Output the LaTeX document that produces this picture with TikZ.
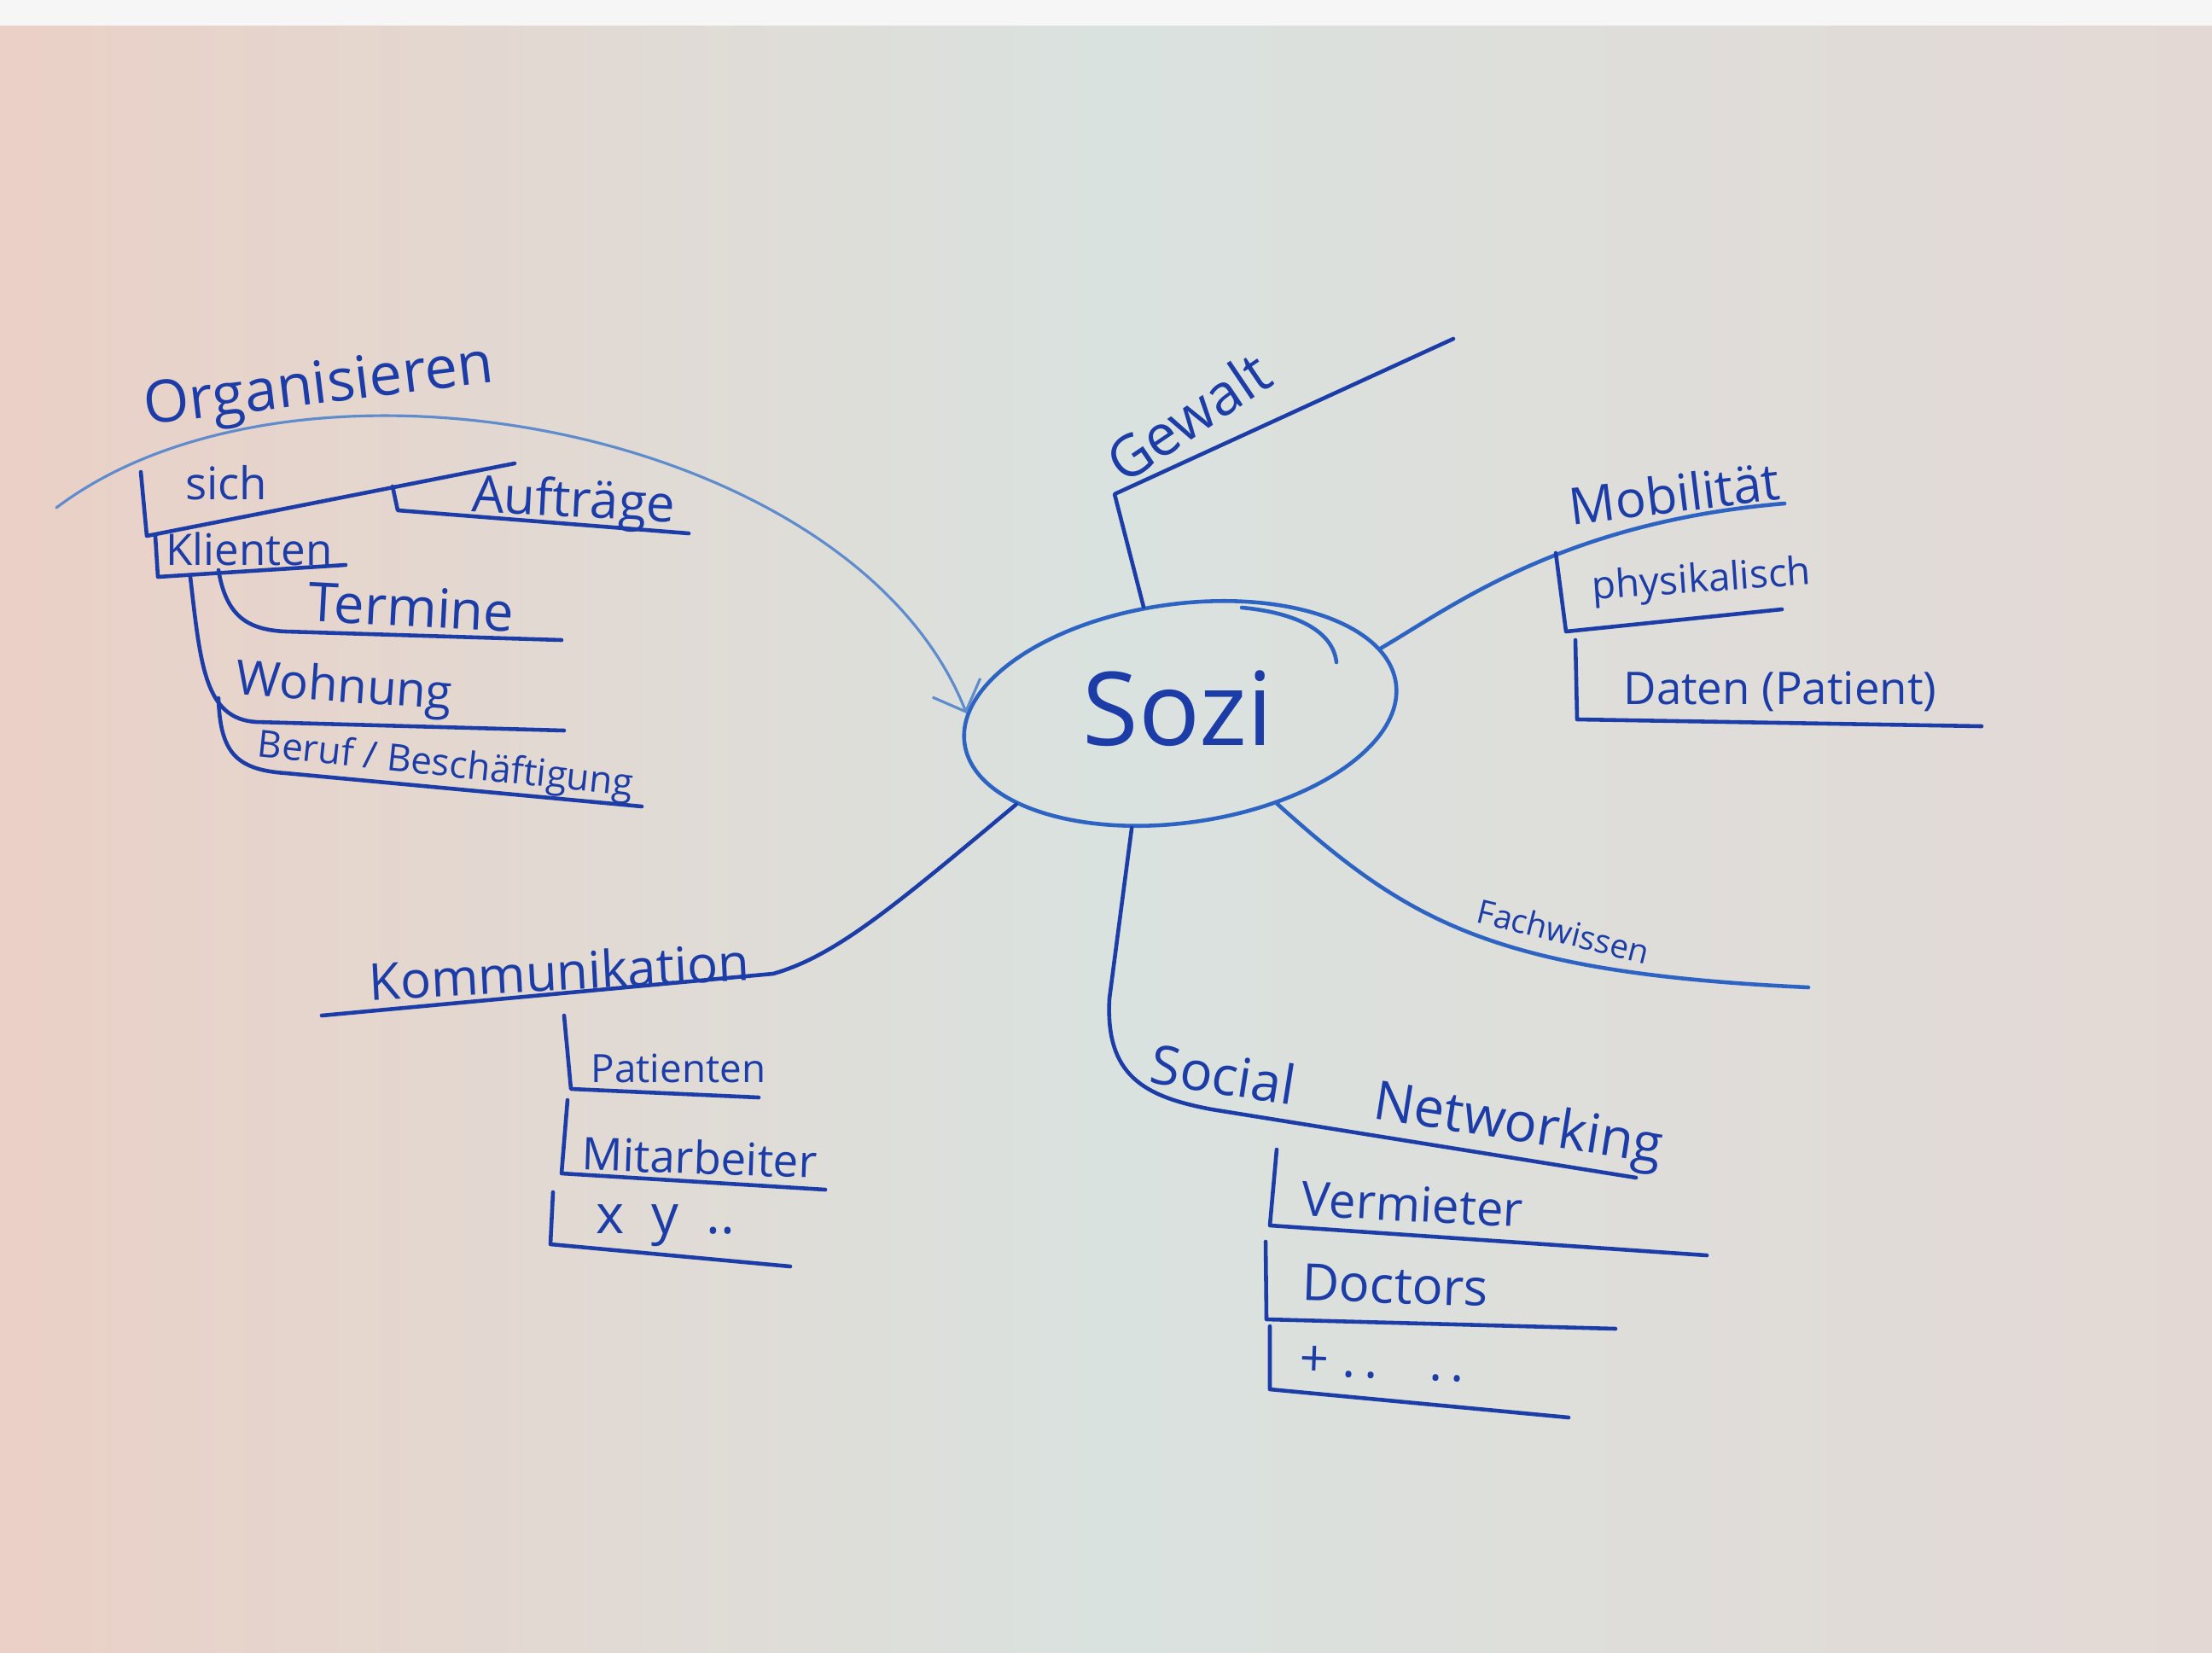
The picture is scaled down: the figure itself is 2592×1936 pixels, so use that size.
\documentclass[tikz,border=0pt]{standalone}
\usepackage{fontspec}
\setmainfont{Open Sans}
\usetikzlibrary{arrows.meta,positioning,shapes.geometric}
\definecolor{ink}{RGB}{28,60,168}
\definecolor{inkmd}{RGB}{45,100,195}
\definecolor{inklt}{RGB}{95,140,205}
\definecolor{board}{RGB}{218,226,223}
\definecolor{boardpink}{RGB}{234,208,198}
\definecolor{boardrt}{RGB}{228,216,212}
\tikzset{
  inkln/.style={draw=ink, line width=1.3pt, line cap=round, line join=round},
  fadeln/.style={draw=inklt, line width=0.9pt, line cap=round},
  lbl/.style={text=ink, inner sep=1pt, font=\fontsize{#1}{#1}\selectfont},
}
\newcommand{\hook}[3]{\draw[inkln] (#1) -- (#2) -- (#3);}

\begin{document}
\begin{tikzpicture}[x=0.01cm, y=-0.01cm]
  % the board
  \shade[left color=boardpink, right color=boardrt, middle color=board] (0,0) rectangle (2592,1936);
  \fill[white!93!gray] (0,0) rectangle (2592,30);
  \useasboundingbox (0,0) rectangle (2592,1936);

  % centre
  \node[ellipse, draw=inkmd, line width=1.3pt, minimum width=5.1cm, minimum height=2.56cm,
        inner sep=0pt, rotate=8] (sozi) at (1383,836) {};
  \node[lbl=34] (sozitxt) at (1380,830) {Sozi};
  \draw[inkln, draw=inkmd] (1455,712) .. controls (1520,718) and (1562,740) .. (1566,776);

  % Organisieren, top left
  \node[lbl=19.5, rotate=7] (org) at (374,456) {Organisieren};
  \coordinate (orgL) at (66,595);
  \draw[fadeln, -{Straight Barb[length=3mm]}] (orgL) .. controls (350,380) and (1000,500) .. (sozi.172);
  \coordinate (sichT) at (165,553); \coordinate (sichC) at (172,628); \coordinate (sichE) at (603,543);
  \hook{sichT}{sichC}{sichE}
  \node[lbl=15] (sich) at (265,566) {sich};
  \coordinate (aufT) at (460,570); \coordinate (aufC) at (466,598); \coordinate (aufE) at (807,625);
  \hook{aufT}{aufC}{aufE}
  \node[lbl=17, rotate=-3] (auf) at (672,590) {Aufträge};
  \coordinate (kliT) at (182,628); \coordinate (kliC) at (185,676); \coordinate (kliE) at (405,662);
  \hook{kliT}{kliC}{kliE}
  \node[lbl=14.5] (kli) at (292,643) {Klienten};
  \coordinate (terS) at (256,668); \coordinate (terE) at (658,750);
  \draw[inkln] (terS) .. controls (265,722) and (290,738) .. (335,740) -- (terE);
  \node[lbl=18, rotate=-3] (ter) at (482,711) {Termine};
  \coordinate (wohS) at (223,676); \coordinate (wohE) at (661,856);
  \draw[inkln] (wohS) .. controls (235,780) and (240,842) .. (300,846) -- (wohE);
  \node[lbl=16, rotate=-4] (woh) at (403,808) {Wohnung};
  \coordinate (berS) at (256,818); \coordinate (berE) at (752,945);
  \draw[inkln] (berS) .. controls (258,880) and (275,902) .. (335,906) -- (berE);
  \node[lbl=12.5, rotate=-6] (ber) at (522,898) {Beruf / Beschäftigung};

  % Gewalt, top
  \coordinate (gewK) at (1306,579); \coordinate (gewE) at (1703,397);
  \draw[inkln] (sozi.101) -- (gewK) -- (gewE);
  \node[lbl=19, rotate=34] (gew) at (1392,488) {Gewalt};

  % Mobilitaet, right
  \coordinate (mobE) at (2091,590);
  \draw[inkln, draw=inkmd] (sozi.10) .. controls (1700,712) and (1830,612) .. (mobE);
  \node[lbl=17, rotate=7] (mob) at (1962,578) {Mobilität};
  \coordinate (phyT) at (1823,648); \coordinate (phyC) at (1835,740); \coordinate (phyE) at (2088,714);
  \hook{phyT}{phyC}{phyE}
  \node[lbl=13, rotate=4] (phy) at (1994,682) {physikalisch};
  \coordinate (datT) at (1846,750); \coordinate (datC) at (1848,843); \coordinate (datE) at (2322,851);
  \hook{datT}{datC}{datE}
  \node[lbl=15] (dat) at (2086,810) {Daten (Patient)};

  % Fachwissen
  \coordinate (fachE) at (2119,1157);
  \draw[inkln, draw=inkmd] (sozi.-51) .. controls (1650,1080) and (1750,1140) .. (fachE);
  \node[lbl=11, rotate=-14] (fach) at (1832,1091) {Fachwissen};

  % Social Networking, bottom
  \coordinate (socK) at (1300,1170); \coordinate (socE) at (1917,1380);
  \draw[inkln] (sozi.-121) -- (socK) .. controls (1295,1260) and (1340,1285) .. (1420,1300) -- (socE);
  \node[lbl=18, rotate=-9] (soc) at (1648,1300) {Social\hspace{1.5em}Networking};
  \coordinate (verT) at (1496,1347); \coordinate (verC) at (1488,1436); \coordinate (verE) at (2000,1471);
  \hook{verT}{verC}{verE}
  \node[lbl=16, rotate=-3] (ver) at (1655,1411) {Vermieter};
  \coordinate (docT) at (1483,1455); \coordinate (docC) at (1484,1546); \coordinate (docE) at (1893,1557);
  \hook{docT}{docC}{docE}
  \node[lbl=17, rotate=-2] (doc) at (1635,1506) {Doctors};
  \coordinate (plsT) at (1488,1554); \coordinate (plsC) at (1488,1628); \coordinate (plsE) at (1838,1661);
  \hook{plsT}{plsC}{plsE}
  \node[lbl=17, rotate=-2] (pls) at (1620,1598) {+\ .\,.\quad.\,.};

  % Kommunikation, bottom left
  \coordinate (komK) at (906,1141); \coordinate (komE) at (377,1190);
  \draw[inkln] (sozi.201) .. controls (1050,1060) and (980,1120) .. (komK) -- (komE);
  \node[lbl=17, rotate=3] (kom) at (655,1138) {Kommunikation};
  \coordinate (patT) at (661,1190); \coordinate (patC) at (669,1276); \coordinate (patE) at (889,1286);
  \hook{patT}{patC}{patE}
  \node[lbl=13] (pat) at (795,1252) {Patienten};
  \coordinate (mitT) at (665,1289); \coordinate (mitC) at (658,1375); \coordinate (mitE) at (967,1394);
  \hook{mitT}{mitC}{mitE}
  \node[lbl=15, rotate=-2] (mit) at (820,1356) {Mitarbeiter};
  \coordinate (xyT) at (648,1397); \coordinate (xyC) at (645,1458); \coordinate (xyE) at (926,1484);
  \hook{xyT}{xyC}{xyE}
  \node[lbl=18] (xy) at (780,1436) {x\enspace y\enspace ..};
\end{tikzpicture}
\end{document}
